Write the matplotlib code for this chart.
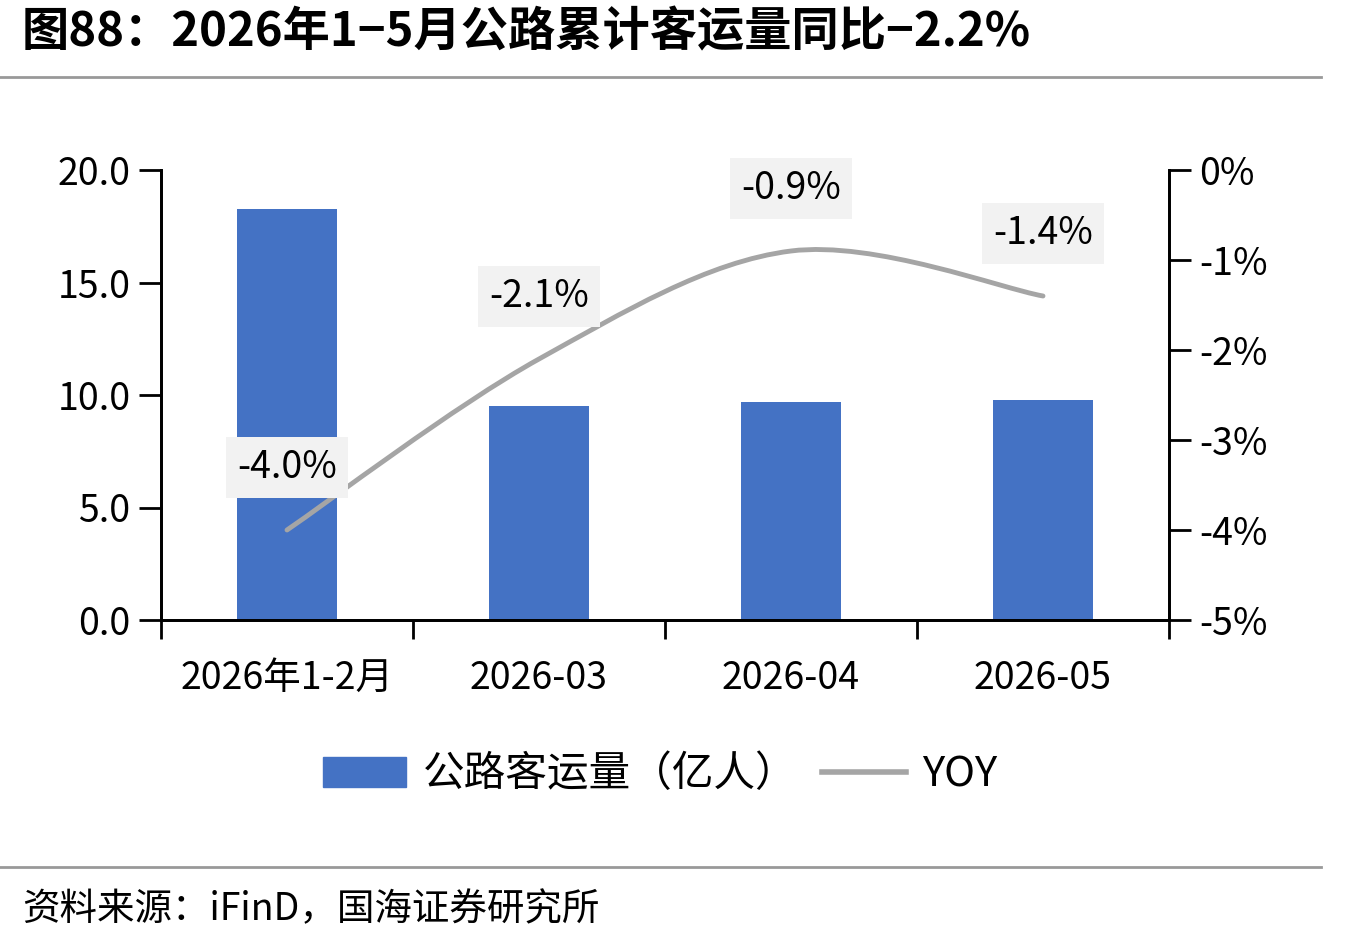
import numpy as np
import matplotlib
matplotlib.use("Agg")
import matplotlib.pyplot as plt
from matplotlib.path import Path
from matplotlib.patches import PathPatch, Patch
from matplotlib.lines import Line2D
from matplotlib.ticker import FuncFormatter

plt.rcParams['font.family'] = ['Noto Sans CJK SC', 'DejaVu Sans']

# data
categories = ["2026年1-2月", "2026-03", "2026-04", "2026-05"]
passengers = [18.25, 9.5, 9.7, 9.8]      # 公路客运量（亿人）
yoy = [-4.0, -2.1, -0.9, -1.4]           # YOY, %
yoy_labels = ["-4.0%", "-2.1%", "-0.9%", "-1.4%"]

bar_color = "#4472c4"
line_color = "#a5a5a5"

fig = plt.figure(figsize=(13.51, 9.43), dpi=100)
ax = fig.add_axes([161 / 1351, 1 - 620 / 943, (1169 - 161) / 1351, (620 - 170) / 943])
ax2 = ax.twinx()

x = np.arange(len(categories))
ax.bar(x, passengers, width=0.4, color=bar_color, zorder=2)
ax.set_xlim(-0.5, len(categories) - 0.5)
ax.set_ylim(0, 20)
ax.set_yticks([0, 5, 10, 15, 20])
ax.yaxis.set_major_formatter(FuncFormatter(lambda v, p: f"{v:.1f}"))

# x ticks at category boundaries, labels at centres
ax.set_xticks(np.arange(-0.5, len(categories)), minor=False)
ax.set_xticklabels([])
ax.set_xticks(x, minor=True)
ax.set_xticklabels(categories, minor=True)
ax.tick_params(axis="x", which="minor", length=0, pad=28, labelsize=27)
ax.tick_params(axis="x", which="major", direction="out", length=14, width=2)
ax.tick_params(axis="y", direction="out", length=16, width=2, labelsize=27, pad=6)

for a in (ax, ax2):
    a.spines["top"].set_visible(False)
    for s in ("left", "right", "bottom"):
        a.spines[s].set_linewidth(2)

ax2.set_ylim(-5, 0)
ax2.set_yticks([-5, -4, -3, -2, -1, 0])
ax2.yaxis.set_major_formatter(FuncFormatter(lambda v, p: f"{int(round(v))}%"))
ax2.tick_params(axis="y", direction="out", length=16, width=2, labelsize=27, pad=6)

# smooth line (Catmull-Rom as cubic Bezier through the data points)
pts = np.column_stack([x, yoy]).astype(float)
ext = np.vstack([pts[0], pts, pts[-1]])
verts = [tuple(pts[0])]
codes = [Path.MOVETO]
for i in range(len(pts) - 1):
    p0, p1, p2, p3 = ext[i], ext[i + 1], ext[i + 2], ext[i + 3]
    c1 = p1 + (p2 - p0) / 6
    c2 = p2 - (p3 - p1) / 6
    verts += [tuple(c1), tuple(c2), tuple(p2)]
    codes += [Path.CURVE4] * 3
ax2.add_patch(PathPatch(Path(verts, codes), facecolor="none", edgecolor=line_color,
                        lw=3.5, capstyle="round", zorder=3))

for xi, yi, lab in zip(x, yoy, yoy_labels):
    ax2.annotate(lab, (xi, yi), xytext=(0, 45), textcoords="offset points",
                 ha="center", va="center", fontsize=27,
                 bbox=dict(boxstyle="square,pad=0.3", fc="#f2f2f2", ec="none"), zorder=4)

# title and separators
fig.text(22 / 1351, 1 - 32 / 943, "图88：2026年1−5月公路累计客运量同比−2.2%",
         fontsize=34, fontweight="bold", ha="left", va="center")
fig.add_artist(Line2D([0, 1321 / 1351], [1 - 77 / 943] * 2, color="#999999", lw=2))
fig.add_artist(Line2D([0, 1321 / 1351], [1 - 867 / 943] * 2, color="#999999", lw=2))
fig.text(22 / 1351, 1 - 910 / 943, "资料来源：iFinD，国海证券研究所",
         fontsize=27, ha="left", va="center")

handles = [Patch(color=bar_color), Line2D([], [], color=line_color, lw=4)]
fig.legend(handles, ["公路客运量（亿人）", "YOY"], loc="center",
           bbox_to_anchor=(660 / 1351, 1 - 775 / 943), ncol=2, frameon=False,
           fontsize=30, handlelength=2.0, handleheight=0.7, columnspacing=0.6,
           handletextpad=0.4)

fig.savefig("out.png", dpi=100)
